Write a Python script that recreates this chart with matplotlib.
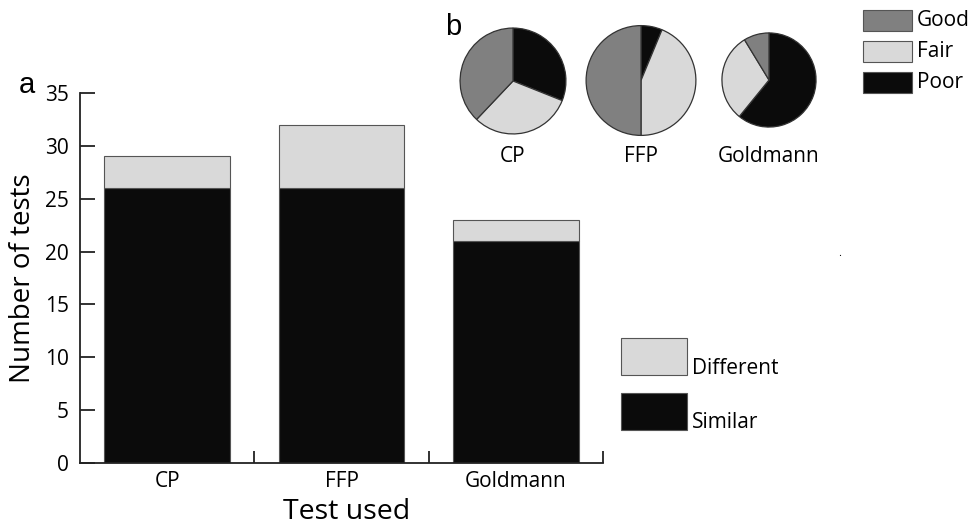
import matplotlib
matplotlib.use("Agg")
import matplotlib.pyplot as plt
from matplotlib.patches import Rectangle
import numpy as np

plt.rcParams['font.family'] = ['Open Sans', 'DejaVu Sans']

# ---- data ----
tests = ["CP", "FFP", "Goldmann"]
similar = [26, 26, 21]
different = [3, 6, 2]
quality_labels = ["Good", "Fair", "Poor"]
good = [11, 16, 2]
fair = [9, 14, 7]
poor = [9, 2, 14]
yticks = [0, 5, 10, 15, 20, 25, 30, 35]

# ---- style ----
C_BLACK = "#0b0b0b"
C_LIGHT = "#d9d9d9"
C_DARK = "#808080"
C_EDGE = "#555555"

W, H = 971, 527
fig = plt.figure(figsize=(W / 100, H / 100), dpi=100)

def fx(px):
    return px / W

def fy(py):
    return 1 - py / H

# ---- bar chart ----
AX_L, AX_R, AX_B, AX_T = 80, 603, 463, 93
ax = fig.add_axes([fx(AX_L), fy(AX_B), fx(AX_R) - fx(AX_L), fy(AX_T) - fy(AX_B)])
x = np.arange(len(tests))
ax.bar(x, similar, width=0.72, color=C_BLACK, edgecolor=C_EDGE, linewidth=0.8)
ax.bar(x, different, bottom=similar, width=0.72, color=C_LIGHT,
       edgecolor=C_EDGE, linewidth=0.8)
ax.set_xlim(-0.5, 2.5)
ax.set_ylim(0, 35)
for s in ["top", "right"]:
    ax.spines[s].set_visible(False)
for s in ["left", "bottom"]:
    ax.spines[s].set_linewidth(1.3)
    ax.spines[s].set_color("#222222")
ax.spines["left"].set_bounds(0, 35)
ax.set_yticks(yticks)
ax.tick_params(axis="y", direction="in", length=11, width=1.3, color="#222222",
               labelsize=15, pad=8)
ax.set_xticks(x)
ax.set_xticklabels(tests)
ax.tick_params(axis="x", which="major", length=0, labelsize=15, pad=6)
ax.set_xticks([0.5, 1.5, 2.5], minor=True)
ax.tick_params(axis="x", which="minor", direction="in", length=9, width=1.3,
               color="#222222")
ax.set_xlabel("Test used", fontsize=20.5, va="baseline")
ax.xaxis.set_label_coords((347 - AX_L) / (AX_R - AX_L), (AX_B - 519) / (AX_B - AX_T))
ax.set_ylabel("Number of tests", fontsize=20, labelpad=6)

fig.text(fx(27), fy(93), "a", fontsize=21, ha="center", va="baseline",
         family=["Liberation Sans", "DejaVu Sans"])

# bar legend
for label, col, top, ty in [("Different", C_LIGHT, 338, 368), ("Similar", C_BLACK, 393, 423)]:
    fig.add_artist(Rectangle((fx(621), fy(top + 37)), fx(687) - fx(621), fy(top) - fy(top + 37),
                             transform=fig.transFigure, facecolor=col, edgecolor=C_EDGE, linewidth=0.8))
    fig.text(fx(692), fy(ty), label, fontsize=15, ha="left", va="center")

# ---- pies ----
centers = [(513, 81, 54), (641, 80.5, 56), (769, 80, 48)]
for i, (cx, cy, r) in enumerate(centers):
    pax = fig.add_axes([fx(cx - r), fy(cy + r), fx(2 * r), 2 * r / H])
    pax.pie([poor[i], fair[i], good[i]], colors=[C_BLACK, C_LIGHT, C_DARK],
            startangle=90, counterclock=False, radius=1,
            wedgeprops=dict(edgecolor="#333333", linewidth=0.9))
    pax.set_xlim(-1.02, 1.02)
    pax.set_ylim(-1.02, 1.02)
    pax.set_aspect("auto")
    pax.axis("off")
    fig.text(fx(cx), fy(157), tests[i], fontsize=15, ha="center", va="center")

fig.text(fx(453), fy(35), "b", fontsize=21, ha="center", va="baseline",
         family=["Liberation Sans", "DejaVu Sans"])

# pie legend
for j, (label, col) in enumerate(zip(quality_labels, [C_DARK, C_LIGHT, C_BLACK])):
    top = 10 + j * 31
    fig.add_artist(Rectangle((fx(863), fy(top + 21)), fx(912) - fx(863), fy(top) - fy(top + 21),
                             transform=fig.transFigure, facecolor=col, edgecolor=C_EDGE, linewidth=0.8))
    fig.text(fx(917), fy(top + 10.5), label, fontsize=15, ha="left", va="center")

# small stray dot
fig.text(fx(840), fy(253), ".", fontsize=8, ha="center", va="center")

fig.savefig("out.png", dpi=100)
